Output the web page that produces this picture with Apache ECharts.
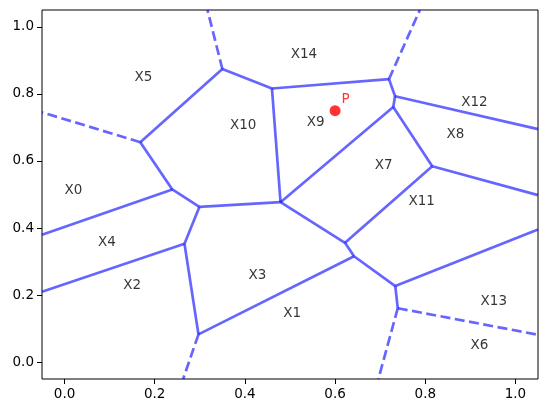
<!DOCTYPE html>
<html>
<head>
<meta charset="utf-8">
<script src="https://cdn.jsdelivr.net/npm/echarts@6/dist/echarts.min.js"></script>
<style>
  html, body { margin: 0; padding: 0; background: #fff; }
  #chart { width: 547px; height: 413px; }
</style>
</head>
<body>
<div id="chart"></div>
<script>
// Voronoi vertices (finite)
const vertices = {
  A: [0.350, 0.874], B: [0.460, 0.816], C: [0.168, 0.656], D: [0.239, 0.515],
  E: [0.299, 0.463], F: [0.479, 0.477], G: [0.7195, 0.844], H: [0.733, 0.793],
  I: [0.729, 0.761], J: [0.8155, 0.584], K: [0.622, 0.356], L: [0.266, 0.353],
  M: [0.297, 0.083], N: [0.642, 0.316], O: [0.7335, 0.227], Q: [0.739, 0.161]
}
// points where ridges leave the view
const farPoints = {
  t1: [0.317, 1.05], t2: [0.788, 1.05],
  l1: [-0.05, 0.745], l2: [-0.05, 0.380], l3: [-0.05, 0.210],
  b1: [0.263, -0.05], b2: [0.696, -0.05],
  r1: [1.05, 0.695], r2: [1.05, 0.498], r3: [1.05, 0.396], r4: [1.05, 0.082]
}
const solidEdges = [
  ['C', 'A'], ['A', 'B'], ['B', 'F'], ['B', 'G'], ['G', 'H'], ['H', 'I'],
  ['H', 'r1'], ['I', 'F'], ['I', 'J'], ['J', 'r2'], ['J', 'K'], ['F', 'E'],
  ['E', 'D'], ['D', 'C'], ['D', 'l2'], ['E', 'L'], ['L', 'l3'], ['L', 'M'],
  ['M', 'N'], ['F', 'K'], ['K', 'N'], ['N', 'O'], ['O', 'r3'], ['O', 'Q']
]
const dashedEdges = [
  ['A', 't1'], ['C', 'l1'], ['G', 't2'], ['M', 'b1'], ['Q', 'r4'], ['Q', 'b2']
]
const labelNames = ['X0', 'X1', 'X2', 'X3', 'X4', 'X5', 'X6', 'X7', 'X8', 'X9', 'X10', 'X11', 'X12', 'X13', 'X14']
const labelPos = [
  [0.0195, 0.513], [0.505, 0.146], [0.150, 0.229], [0.428, 0.259], [0.094, 0.357],
  [0.175, 0.848], [0.920, 0.051], [0.708, 0.585], [0.867, 0.679], [0.557, 0.715],
  [0.396, 0.706], [0.792, 0.478], [0.909, 0.775], [0.952, 0.182], [0.531, 0.917]
]
const pointP = [0.6, 0.75]
const tickValues = [0, 0.2, 0.4, 0.6, 0.8, 1.0]

function pt(k) {
  return vertices[k] || farPoints[k]
}

const edgeColor = 'rgba(0,0,255,0.6)'
const font = 'DejaVu Sans'

let chart = echarts.init(document.getElementById('chart'), null, { renderer: 'canvas' })

function axis() {
  return {
    type: 'value',
    min: -0.05,
    max: 1.05,
    axisLine: { show: false, onZero: false },
    splitLine: { show: false },
    axisTick: {
      show: true,
      inside: false,
      length: 5,
      customValues: tickValues,
      lineStyle: { color: '#000', width: 1 }
    },
    axisLabel: {
      customValues: tickValues,
      color: '#000',
      fontSize: 13.5,
      fontFamily: font,
      margin: 8,
      formatter: v => v.toFixed(1)
    }
  }
}

chart.setOption({
  animation: false,
  grid: {
    left: 42, right: 9, top: 10, bottom: 34,
    show: true,
    borderColor: '#000',
    borderWidth: 1,
    backgroundColor: 'transparent'
  },
  xAxis: axis(),
  yAxis: axis(),
  series: [
    {
      type: 'lines',
      coordinateSystem: 'cartesian2d',
      polyline: false,
      silent: true,
      z: 2,
      lineStyle: { color: edgeColor, width: 2.7, opacity: 1 },
      data: solidEdges.map(e => ({ coords: [pt(e[0]), pt(e[1])] }))
    },
    {
      type: 'lines',
      coordinateSystem: 'cartesian2d',
      polyline: false,
      silent: true,
      z: 2,
      lineStyle: { color: edgeColor, width: 2.7, opacity: 1, type: [10, 4.5], cap: 'butt' },
      data: dashedEdges.map(e => ({ coords: [pt(e[0]), pt(e[1])] }))
    },
    {
      type: 'scatter',
      symbolSize: 0,
      silent: true,
      z: 3,
      label: {
        show: true,
        position: 'inside',
        color: '#000',
        fontSize: 13.5,
        fontFamily: font,
        formatter: p => labelNames[p.dataIndex]
      },
      data: labelPos
    },
    {
      type: 'scatter',
      symbol: 'circle',
      symbolSize: 11,
      silent: true,
      z: 4,
      itemStyle: { color: '#ff0000' },
      label: {
        show: true,
        position: [16, -6],
        align: 'center',
        verticalAlign: 'middle',
        color: '#ff0000',
        fontSize: 13.5,
        fontFamily: font,
        formatter: 'P'
      },
      data: [pointP]
    }
  ]
})
</script>
</body>
</html>
